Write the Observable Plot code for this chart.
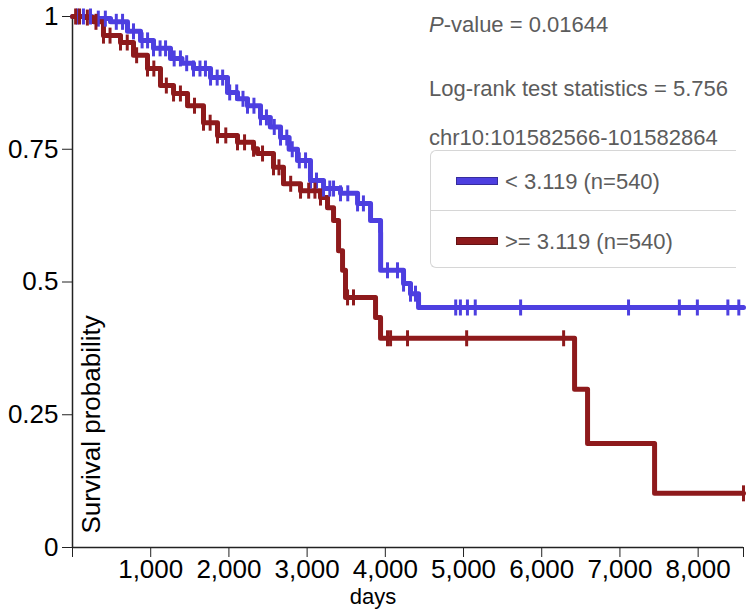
<!DOCTYPE html>
<html>
<head>
<meta charset="utf-8">
<script src="https://cdn.jsdelivr.net/npm/d3@7"></script>
<script src="https://cdn.jsdelivr.net/npm/@observablehq/plot@0.6"></script>
<style>
  html, body { margin: 0; padding: 0; background: #fff; }
  #wrap { position: relative; width: 751px; height: 614px; font-family: "Liberation Sans", Arial, sans-serif; }
  #wrap svg { position: absolute; left: 0; top: 0; }
  .note { position: absolute; left: 429px; font-size: 22px; color: #5c5c5c; white-space: nowrap; line-height: 1; }
  #legend { position: absolute; left: 430px; top: 150px; width: 306px; height: 118px; border: 1px solid #d6d6d6; border-right: none; border-radius: 6px 0 0 6px; box-sizing: border-box; }
  #legend .row { position: absolute; left: 0; width: 100%; height: 59px; }
  #legend .row + .row { border-top: 1px solid #d6d6d6; }
  #legend .sw { position: absolute; left: 25px; top: 26px; width: 42px; height: 8px; box-sizing: border-box; }
  #legend .lab { position: absolute; left: 74px; top: 20px; font-size: 22px; color: #5c5c5c; white-space: nowrap; line-height: 1; }
</style>
</head>
<body>
<div id="wrap"></div>
<script>
// ---- data ----
const groups = ["< 3.119 (n=540)", ">= 3.119 (n=540)"];
const colors = ["#4d3fe0", "#8e1a1c"];
const lowDays  = [0, 250, 486, 703, 870, 1036, 1253, 1400, 1547, 1765, 1982, 2110, 2238, 2404, 2530, 2660, 2770, 2877, 3043, 3210, 3427, 3645, 3811, 3939, 3940, 4233, 4322, 4425, 8580];
const lowSurv  = [1, 0.996, 0.990, 0.972, 0.955, 0.940, 0.921, 0.912, 0.902, 0.885, 0.857, 0.845, 0.832, 0.810, 0.792, 0.772, 0.750, 0.729, 0.691, 0.676, 0.667, 0.648, 0.616, 0.593, 0.522, 0.497, 0.478, 0.452, 0.452];
const highDays = [0, 150, 269, 396, 614, 780, 959, 1125, 1292, 1471, 1675, 1854, 2110, 2315, 2366, 2570, 2698, 2916, 3171, 3261, 3338, 3402, 3453, 3491, 3875, 3939, 6420, 6586, 7443, 8580];
const highSurv = [1, 0.998, 0.990, 0.964, 0.951, 0.927, 0.902, 0.870, 0.855, 0.832, 0.800, 0.776, 0.763, 0.751, 0.742, 0.716, 0.685, 0.672, 0.659, 0.640, 0.616, 0.559, 0.522, 0.471, 0.433, 0.394, 0.298, 0.196, 0.102, 0.102];
const lowCensor  = [60, 140, 230, 330, 420, 560, 640, 780, 890, 960, 1036, 1120, 1190, 1300, 1380, 1460, 1547, 1630, 1700, 1765, 1850, 1920, 2010, 2100, 2180, 2238, 2320, 2404, 2480, 2580, 2660, 2740, 2810, 2900, 2980, 3043, 3120, 3210, 3290, 3338, 3427, 3520, 3645, 3720, 4028, 4156, 4233, 4322, 4386, 4900, 4960, 5050, 5150, 5730, 7110, 7760, 7990, 8380, 8520];
const highCensor = [40, 90, 190, 300, 396, 480, 614, 700, 820, 959, 1040, 1200, 1292, 1380, 1560, 1675, 1760, 1854, 1960, 2110, 2200, 2315, 2430, 2570, 2640, 2790, 2916, 3020, 3100, 3171, 3517, 3593, 4028, 4067, 4284, 5040, 6280, 8580];
const yTicks = [0, 0.25, 0.5, 0.75, 1];
const yTickLabels = ["0", "0.25", "0.5", "0.75", "1"];
const xTicks = [0, 1000, 2000, 3000, 4000, 5000, 6000, 7000, 8000, 8580];
const xMax = 8580;

// ---- build tables ----
const curves = [
  ...lowDays.map((d, i) => ({g: groups[0], day: d, s: lowSurv[i]})),
  ...highDays.map((d, i) => ({g: groups[1], day: d, s: highSurv[i]}))
];
function stepAt(days, surv, t) {
  const i = d3.bisectRight(days, t) - 1;
  return surv[Math.max(0, i)];
}
const censors = [
  ...lowCensor.map(t => ({g: groups[0], day: t, s: stepAt(lowDays, lowSurv, t)})),
  ...highCensor.map(t => ({g: groups[1], day: t, s: stepAt(highDays, highSurv, t)}))
];
const vline = { draw(ctx) { ctx.moveTo(0, -8); ctx.lineTo(0, 8); } };

const chart = Plot.plot({
  width: 751,
  height: 614,
  marginLeft: 72,
  marginRight: 8,
  marginTop: 16,
  marginBottom: 67,
  style: { fontFamily: "Liberation Sans, Arial, sans-serif", background: "#fff", color: "#000" },
  x: { domain: [0, xMax] },
  y: { domain: [0, 1] },
  color: { domain: groups, range: colors },
  marks: [
    Plot.axisY({ ticks: yTicks, tickFormat: (d) => yTickLabels[yTicks.indexOf(d)], tickSize: 10, tickPadding: 4, fontSize: 26, label: null, stroke: "#222" }),
    Plot.axisX({ ticks: xTicks, tickFormat: (d) => (d === 0 || d === xMax) ? "" : d3.format(",")(d), tickSize: 10, tickPadding: 2, fontSize: 26, label: null, stroke: "#222" }),
    Plot.ruleX([0], { stroke: "#222", strokeWidth: 1.5 }),
    Plot.ruleY([0], { stroke: "#222", strokeWidth: 1.5 }),
    Plot.line(curves, { x: "day", y: "s", z: "g", stroke: "g", curve: "step-after", strokeWidth: 5 }),
    Plot.dot(censors, { x: "day", y: "s", stroke: "g", symbol: vline, strokeWidth: 3, fill: "none" }),
    Plot.text(["Survival probability"], { frameAnchor: "bottom-left", text: d => d, rotate: -90, textAnchor: "start", lineAnchor: "middle", dx: 19, dy: -14, fontSize: 26, fill: "#000" }),
    Plot.text(["days"], { frameAnchor: "bottom", text: d => d, dx: -35, dy: 56, fontSize: 22, fill: "#000" })
  ]
});
const wrap = document.getElementById("wrap");
wrap.appendChild(chart);

// notes and legend
function note(html, top) {
  const d = document.createElement("div");
  d.className = "note"; d.style.top = top + "px"; d.innerHTML = html; wrap.appendChild(d);
}
note("<i>P</i>-value = 0.01644", 14);
note("Log-rank test statistics = 5.756", 78);
note("chr10:101582566-101582864", 127);
const legend = document.createElement("div");
legend.id = "legend";
groups.forEach((g, i) => {
  const row = document.createElement("div");
  row.className = "row"; row.style.top = (i * 59) + "px";
  const sw = document.createElement("div");
  sw.className = "sw"; sw.style.background = colors[i]; sw.style.border = "1px solid " + d3.color(colors[i]).darker(1);
  const lab = document.createElement("div");
  lab.className = "lab"; lab.textContent = g;
  row.appendChild(sw); row.appendChild(lab); legend.appendChild(row);
});
wrap.appendChild(legend);
</script>
</body>
</html>
